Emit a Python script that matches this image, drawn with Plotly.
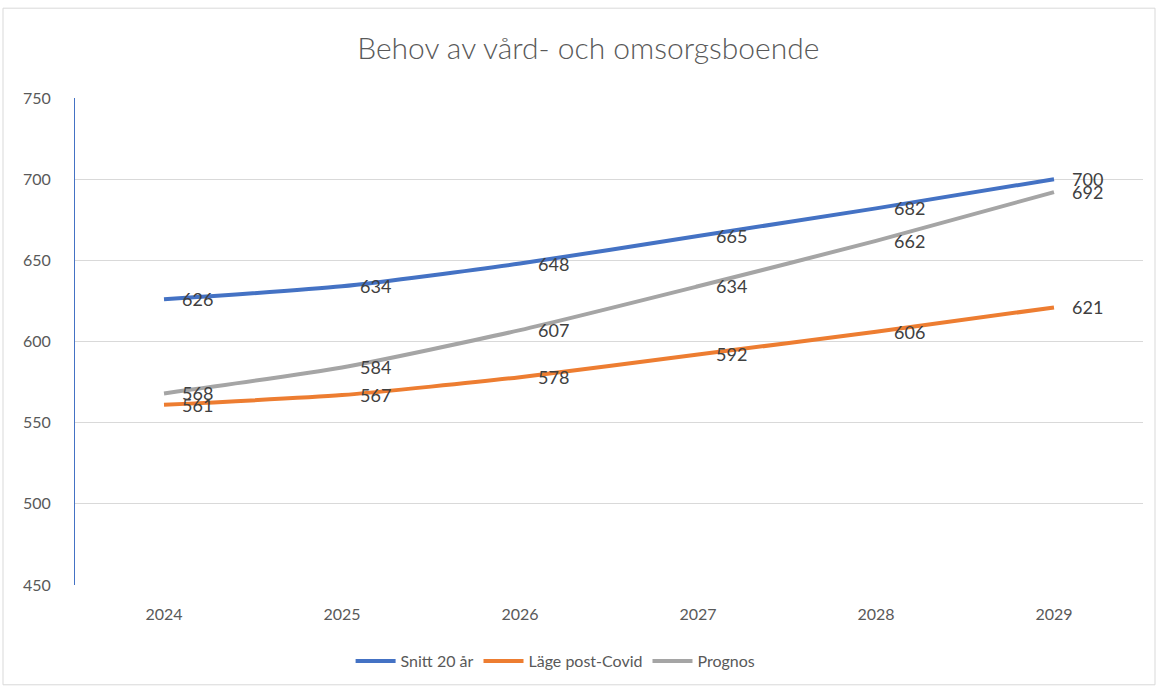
import plotly.graph_objects as go

years = ["2024", "2025", "2026", "2027", "2028", "2029"]
snitt = [626, 634, 648, 665, 682, 700]
lage = [561, 567, 578, 592, 606, 621]
prognos = [568, 584, 607, 634, 662, 692]

series = [
    ("Snitt 20 år", snitt, "#4472C4"),
    ("Läge post-Covid", lage, "#ED7D31"),
    ("Prognos", prognos, "#A5A5A5"),
]

FONT = "Lato"
fig = go.Figure()
for name, vals, col in series:
    fig.add_trace(go.Scatter(
        x=years, y=vals, name=name, mode="lines",
        line=dict(color=col, width=4, shape="spline", smoothing=0.6),
    ))

annotations = []
for name, vals, col in series:
    for i, yv in enumerate(vals):
        annotations.append(dict(
            x=i, y=yv, xref="x", yref="y", text=str(yv), showarrow=False,
            xanchor="left", yanchor="middle", xshift=16,
            font=dict(family=FONT, size=18, color="#404040"),
        ))

fig.update_layout(
    width=1158, height=689,
    margin=dict(l=75, r=15, t=98, b=103),
    paper_bgcolor="white", plot_bgcolor="white",
    title=dict(text="Behov av vård- och omsorgsboende", x=0.508, xanchor="center",
               y=1 - 48 / 689, yanchor="middle",
               font=dict(family=FONT, size=30, color="#595959", weight=300)),
    font=dict(family=FONT, size=16, color="#595959"),
    xaxis=dict(type="category", range=[-0.5, 5.5], showgrid=False, showline=False,
               ticks="", tickfont=dict(size=16, color="#595959"), ticklabelstandoff=18),
    yaxis=dict(range=[450, 750], dtick=50, showgrid=True, gridcolor="#D9D9D9",
               gridwidth=1, showline=True, linecolor="#4472C4", linewidth=1,
               zeroline=False, ticks="", tickfont=dict(size=16, color="#595959"),
               ticklabelstandoff=20),
    legend=dict(orientation="h", x=0.45, xanchor="center", y=-0.154, yanchor="middle",
                font=dict(size=16, color="#595959"), itemwidth=40),
    annotations=annotations,
    shapes=[dict(type="rect", xref="paper", yref="paper",
                 x0=(3 - 75) / 1068, x1=(1155 - 75) / 1068,
                 y0=(586 - 686) / 488, y1=(586 - 8) / 488,
                 line=dict(color="#D9D9D9", width=1), layer="below")],
    showlegend=True,
)

fig.write_html("out.html", config={"displayModeBar": False},
               post_script="document.body.style.margin='0';")
